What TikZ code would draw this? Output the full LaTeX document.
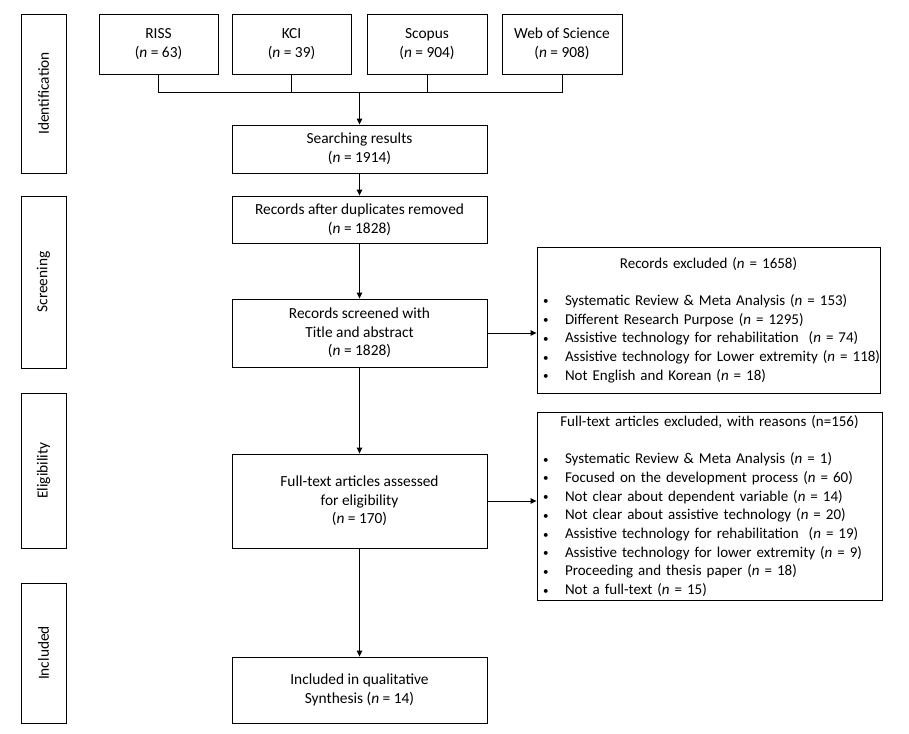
\documentclass[tikz,border=0pt]{standalone}
\usepackage{fontspec}
\setmainfont{Carlito}
\usetikzlibrary{arrows.meta}
\newcommand{\bul}[1]{\noindent\hspace*{3pt}\makebox[22pt][l]{\raisebox{0.5pt}{\fontsize{11}{11}\selectfont\textbullet}}\mbox{#1}\par}
\begin{document}
\begin{tikzpicture}[x=1pt,y=-1pt,
  every node/.style={font=\fontsize{15.4}{18.7}\selectfont},
  box/.style={draw=black,line width=0.9pt,inner sep=2pt,align=center},
  exbox/.style={draw=black,line width=0.9pt,inner xsep=3pt,inner ysep=0pt,font=\fontsize{15}{18.7}\selectfont},
  phase/.style={draw=black,line width=0.9pt,minimum width=45pt,inner sep=0pt},
  phasetext/.style={rotate=90},
  conn/.style={line width=0.9pt},
  arr/.style={line width=0.9pt,-{Triangle[length=6pt,width=5.5pt]}}
]
\useasboundingbox (0,0) rectangle (909,733);

% phase boxes
\node[phase,minimum height=159pt] (pid) at (43.5,93.5) {};
\node[phasetext] at (pid.center) {Identification};
\node[phase,minimum height=172pt] (psc) at (43.5,282) {};
\node[phasetext] at (psc.center) {Screening};
\node[phase,minimum height=155pt] (pel) at (43.5,470.5) {};
\node[phasetext] at (pel.center) {Eligibility};
\node[phase,minimum height=140pt] (pin) at (43.5,653) {};
\node[phasetext] at (pin.center) {Included};

% databases
\node[box,minimum width=119pt,minimum height=60pt] (riss) at (158.5,44) {RISS\\(\textit{n} = 63)};
\node[box,minimum width=119pt,minimum height=60pt] (kci) at (291.5,44) {KCI\\(\textit{n} = 39)};
\node[box,minimum width=120pt,minimum height=60pt] (scopus) at (427,44) {Scopus\\(\textit{n} = 904)};
\node[box,minimum width=120pt,minimum height=60pt] (wos) at (562,44) {Web of Science\\(\textit{n} = 908)};

% main flow
\node[box,minimum width=255pt,minimum height=48pt] (search) at (359.5,149) {Searching results\\(\textit{n} = 1914)};
\node[box,minimum width=255pt,minimum height=47pt] (dup) at (359.5,219.5) {Records after duplicates removed\\(\textit{n} = 1828)};
\node[box,minimum width=255pt,minimum height=68pt] (screen) at (359.5,333) {Records screened with\\Title and abstract\\(\textit{n} = 1828)};
\node[box,minimum width=255pt,minimum height=94pt] (full) at (359.5,501) {Full-text articles assessed\\for eligibility\\(\textit{n} = 170)};
\node[box,minimum width=255pt,minimum height=66pt] (incl) at (359.5,690) {Included in qualitative\\Synthesis (\textit{n} = 14)};

% exclusion boxes
\node[exbox,minimum width=343pt,minimum height=146pt,text width=337pt] (ex1) at (708.5,320) {%
  {\centering Records excluded (\textit{n} = 1658)\par}
  \vspace{18.7pt}
  \bul{Systematic Review \& Meta Analysis (\textit{n} = 153)}
  \bul{Different Research Purpose (\textit{n} = 1295)}
  \bul{Assistive technology for rehabilitation\ \ (\textit{n} = 74)}
  \bul{Assistive technology for Lower extremity (\textit{n} = 118)}
  \bul{Not English and Korean (\textit{n} = 18)}};
\node[exbox,minimum width=345pt,minimum height=188pt,text width=339pt] (ex2) at (709.5,506) {%
  {\centering Full-text articles excluded, with reasons (n=156)\par}
  \vspace{18.7pt}
  \bul{Systematic Review \& Meta Analysis (\textit{n} = 1)}
  \bul{Focused on the development process (\textit{n} = 60)}
  \bul{Not clear about dependent variable (\textit{n} = 14)}
  \bul{Not clear about assistive technology (\textit{n} = 20)}
  \bul{Assistive technology for rehabilitation\ \ (\textit{n} = 19)}
  \bul{Assistive technology for lower extremity (\textit{n} = 9)}
  \bul{Proceeding and thesis paper (\textit{n} = 18)}
  \bul{Not a full-text (\textit{n} = 15)}\vspace{12pt}};

% connectors
\coordinate (jl) at (158.5,92);
\coordinate (jr) at (562,92);
\coordinate (jm) at (359.5,92);
\draw[conn] (riss.south) -- (jl) -- (jr) -- (wos.south);
\draw[conn] (kci.south) -- (kci.south |- jl);
\draw[conn] (scopus.south) -- (scopus.south |- jl);
\draw[arr] (jm) -- (search.north);
\draw[arr] (search) -- (dup);
\draw[arr] (dup) -- (screen);
\draw[arr] (screen) -- (full);
\draw[arr] (full) -- (incl);
\draw[arr] (screen.east) -- (screen.east -| ex1.west);
\draw[arr] (full.east) -- (full.east -| ex2.west);
\end{tikzpicture}
\end{document}
